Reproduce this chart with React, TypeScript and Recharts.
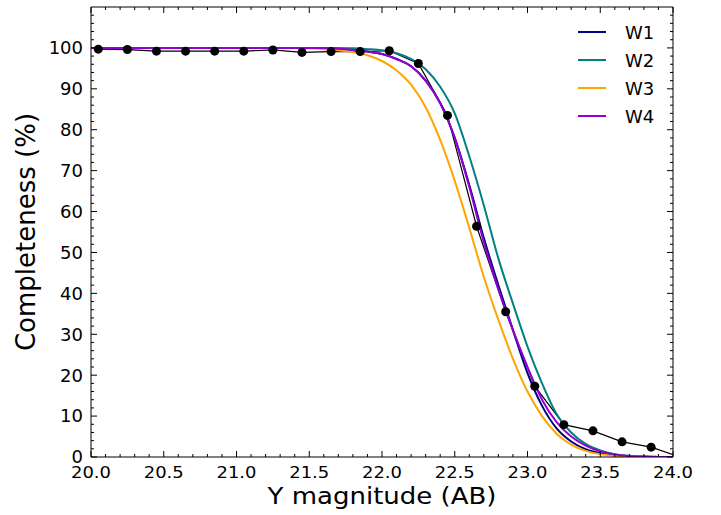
import { LineChart, Line, XAxis, YAxis, Legend } from 'recharts';

// magnitude grid for the fitted curves
const mags = [
  20.0, 20.1, 20.2, 20.3, 20.4, 20.5, 20.6, 20.7, 20.8, 20.9,
  21.0, 21.1, 21.2, 21.3, 21.4, 21.5, 21.6, 21.7, 21.8, 21.9,
  22.0, 22.1, 22.2, 22.3, 22.4, 22.5, 22.6, 22.7, 22.8, 22.9,
  23.0, 23.1, 23.2, 23.3, 23.4, 23.5, 23.6, 23.7, 23.8, 23.9, 24.0,
];

const w1 = [
  100, 100, 100, 100, 100, 100, 100, 100, 100, 100,
  100, 100, 100, 100, 100, 100, 100, 99.8, 99.5, 99.1,
  98.5, 97.3, 95.5, 92, 86.5, 78, 66.5, 53.5, 42, 31,
  20.5, 12.5, 7, 3.8, 1.9, 0.9, 0.4, 0.15, 0.05, 0.02, 0,
];
const w2 = [
  100, 100, 100, 100, 100, 100, 100, 100, 100, 100,
  100, 100, 100, 100, 100, 100, 100, 100, 99.9, 99.7,
  99.4, 98.7, 97.3, 94.8, 90.5, 84, 73.5, 61.5, 48.5, 37.5,
  27, 18, 10.5, 6, 3.2, 1.6, 0.7, 0.3, 0.1, 0.03, 0,
];
const w3 = [
  100, 100, 100, 100, 100, 100, 100, 100, 100, 100,
  100, 100, 100, 100, 100, 99.9, 99.7, 99.4, 99.0, 98.2,
  96.8, 94.5, 91, 85.5, 77.5, 67.5, 56, 44, 33.5, 24,
  16, 10, 5.7, 3, 1.5, 0.7, 0.3, 0.1, 0.04, 0.01, 0,
];
const w4 = [
  100, 100, 100, 100, 100, 100, 100, 100, 100, 100,
  100, 100, 100, 100, 100, 100, 100, 99.8, 99.5, 99.1,
  98.5, 97.3, 95.5, 92, 86.5, 78, 66, 52.5, 41, 31,
  22, 14, 8.5, 5, 2.8, 1.4, 0.6, 0.25, 0.1, 0.03, 0,
];

// measured completeness points
const obsMag = [
  20.05, 20.25, 20.45, 20.65, 20.85, 21.05, 21.25, 21.45, 21.65, 21.85,
  22.05, 22.25, 22.45, 22.65, 22.85, 23.05, 23.25, 23.45, 23.65, 23.85, 24.05,
];
const obsVal = [
  99.7, 99.6, 99.2, 99.2, 99.2, 99.2, 99.5, 98.9, 99.1, 99.1,
  99.3, 96.2, 83.5, 56.4, 35.5, 17.3, 7.9, 6.4, 3.7, 2.4, 0,
];

const xMajor = [20.0, 20.5, 21.0, 21.5, 22.0, 22.5, 23.0, 23.5, 24.0];
const yTicks = [
  0, 2, 4, 6, 8, 10, 12, 14, 16, 18, 20, 22, 24, 26, 28, 30, 32, 34, 36, 38,
  40, 42, 44, 46, 48, 50, 52, 54, 56, 58, 60, 62, 64, 66, 68, 70, 72, 74, 76, 78,
  80, 82, 84, 86, 88, 90, 92, 94, 96, 98, 100, 102, 104, 106, 108,
];
const yLabels = [0, 10, 20, 30, 40, 50, 60, 70, 80, 90, 100];
const seriesNames = ['W1', 'W2', 'W3', 'W4'];

const curveData = mags.map((m, i) => ({ m, w1: w1[i], w2: w2[i], w3: w3[i], w4: w4[i] }));
const obsData = obsMag.map((m, i) => ({ m, obs: obsVal[i] }));

const FONT = '"DejaVu Sans", sans-serif';
const isXMajor = (v: number) => xMajor.some((t) => Math.abs(t - v) < 1e-6);
const isYMajor = (v: number) => yLabels.includes(v);

const BottomTick = ({ x, y, payload }: any) => {
  const major = isXMajor(payload.value);
  return (
    <g>
      <line x1={x} x2={x} y1={y} y2={y - (major ? 6 : 3)} stroke="#000" />
      {major && (
        <text
          transform={`translate(${x},${y + 21}) scale(1,0.9)`}
          textAnchor="middle"
          fontSize={18}
          fontFamily={FONT}
          fill="#000"
        >
          {payload.value.toFixed(1)}
        </text>
      )}
    </g>
  );
};

const TopTick = ({ x, y, payload }: any) => {
  const major = isXMajor(payload.value);
  return <line x1={x} x2={x} y1={y} y2={y + (major ? 6 : 3)} stroke="#000" />;
};

const LeftTick = ({ x, y, payload }: any) => {
  const major = isYMajor(payload.value);
  return (
    <g>
      <line x1={x} x2={x + (major ? 6 : 3)} y1={y} y2={y} stroke="#000" />
      {major && (
        <text x={x - 8} y={y + 6.4} textAnchor="end" fontSize={18} fontFamily={FONT} fill="#000">
          {payload.value}
        </text>
      )}
    </g>
  );
};

const RightTick = ({ x, y, payload }: any) => {
  const major = isYMajor(payload.value);
  return <line x1={x} x2={x - (major ? 6 : 3)} y1={y} y2={y} stroke="#000" />;
};

const XTitle = ({ viewBox }: any) => (
  <text
    transform={`translate(${viewBox.x + viewBox.width / 2},504) scale(1,0.85)`}
    textAnchor="middle"
    fontSize={26}
    fontFamily={FONT}
    fill="#000"
  >
    Y magnitude (AB)
  </text>
);

const YTitle = () => {
  const cx = 35;
  const cy = 232;
  return (
    <text
      x={cx}
      y={cy}
      transform={`rotate(-90 ${cx} ${cy})`}
      textAnchor="middle"
      fontSize={26}
      fontFamily={FONT}
      fill="#000"
    >
      Completeness (%)
    </text>
  );
};

const renderLegend = ({ payload }: any) => (
  <div style={{ fontFamily: FONT, fontSize: 18, color: '#000' }}>
    {(payload || [])
      .filter((p: any) => seriesNames.includes(p.value))
      .map((p: any) => (
        <div key={p.value} style={{ display: 'flex', alignItems: 'center', height: 28 }}>
          <svg width={28} height={4} style={{ marginRight: 19 }}>
            <line x1={0} x2={28} y1={2} y2={2} stroke={p.color} strokeWidth={2} />
          </svg>
          <span>{p.value}</span>
        </div>
      ))}
  </div>
);

export default function App() {
  return (
    <div style={{ position: 'absolute', left: 0, top: 0, background: '#fff' }}>
      <LineChart
        width={721}
        height={515}
        data={curveData}
        margin={{ top: 6, right: 47, left: 90, bottom: 57 }}
      >
        <XAxis
          xAxisId="b"
          dataKey="m"
          type="number"
          orientation="bottom"
          domain={[20, 24]}
          allowDataOverflow
          ticks={mags}
          interval={0}
          height={1}
          tickSize={0}
          tickMargin={0}
          tickLine={false}
          tick={<BottomTick />}
          axisLine={{ stroke: '#000' }}
          label={<XTitle />}
        />
        <XAxis
          xAxisId="t"
          dataKey="m"
          type="number"
          orientation="top"
          domain={[20, 24]}
          allowDataOverflow
          ticks={mags}
          interval={0}
          height={1}
          tickSize={0}
          tickMargin={0}
          tickLine={false}
          tick={<TopTick />}
          axisLine={{ stroke: '#000' }}
        />
        <YAxis
          yAxisId="l"
          orientation="left"
          type="number"
          domain={[0, 110]}
          allowDataOverflow
          ticks={yTicks}
          interval={0}
          width={1}
          tickSize={0}
          tickMargin={0}
          tickLine={false}
          tick={<LeftTick />}
          axisLine={{ stroke: '#000' }}
          label={<YTitle />}
        />
        <YAxis
          yAxisId="r"
          orientation="right"
          type="number"
          domain={[0, 110]}
          allowDataOverflow
          ticks={yTicks}
          interval={0}
          width={1}
          tickSize={0}
          tickMargin={0}
          tickLine={false}
          tick={<RightTick />}
          axisLine={{ stroke: '#000' }}
        />
        <Legend
          layout="vertical"
          align="center"
          verticalAlign="middle"
          content={renderLegend}
          wrapperStyle={{ position: 'absolute', left: 578, top: 18, width: 'auto', height: 'auto' }}
        />
        <Line
          xAxisId="b"
          yAxisId="l"
          data={obsData}
          dataKey="obs"
          name="obs"
          type="linear"
          stroke="#000"
          strokeWidth={1.2}
          dot={{ r: 4.5, fill: '#000', stroke: '#000', strokeWidth: 0 }}
          legendType="none"
          isAnimationActive={false}
        />
        <Line xAxisId="b" yAxisId="l" dataKey="w1" name="W1" type="monotone" stroke="#000080" strokeWidth={2} dot={false} isAnimationActive={false} />
        <Line xAxisId="b" yAxisId="l" dataKey="w2" name="W2" type="monotone" stroke="#008080" strokeWidth={2} dot={false} isAnimationActive={false} />
        <Line xAxisId="b" yAxisId="l" dataKey="w3" name="W3" type="monotone" stroke="#FFA500" strokeWidth={2} dot={false} isAnimationActive={false} />
        <Line xAxisId="b" yAxisId="l" dataKey="w4" name="W4" type="monotone" stroke="#9400D3" strokeWidth={2} dot={false} isAnimationActive={false} />
      </LineChart>
    </div>
  );
}
